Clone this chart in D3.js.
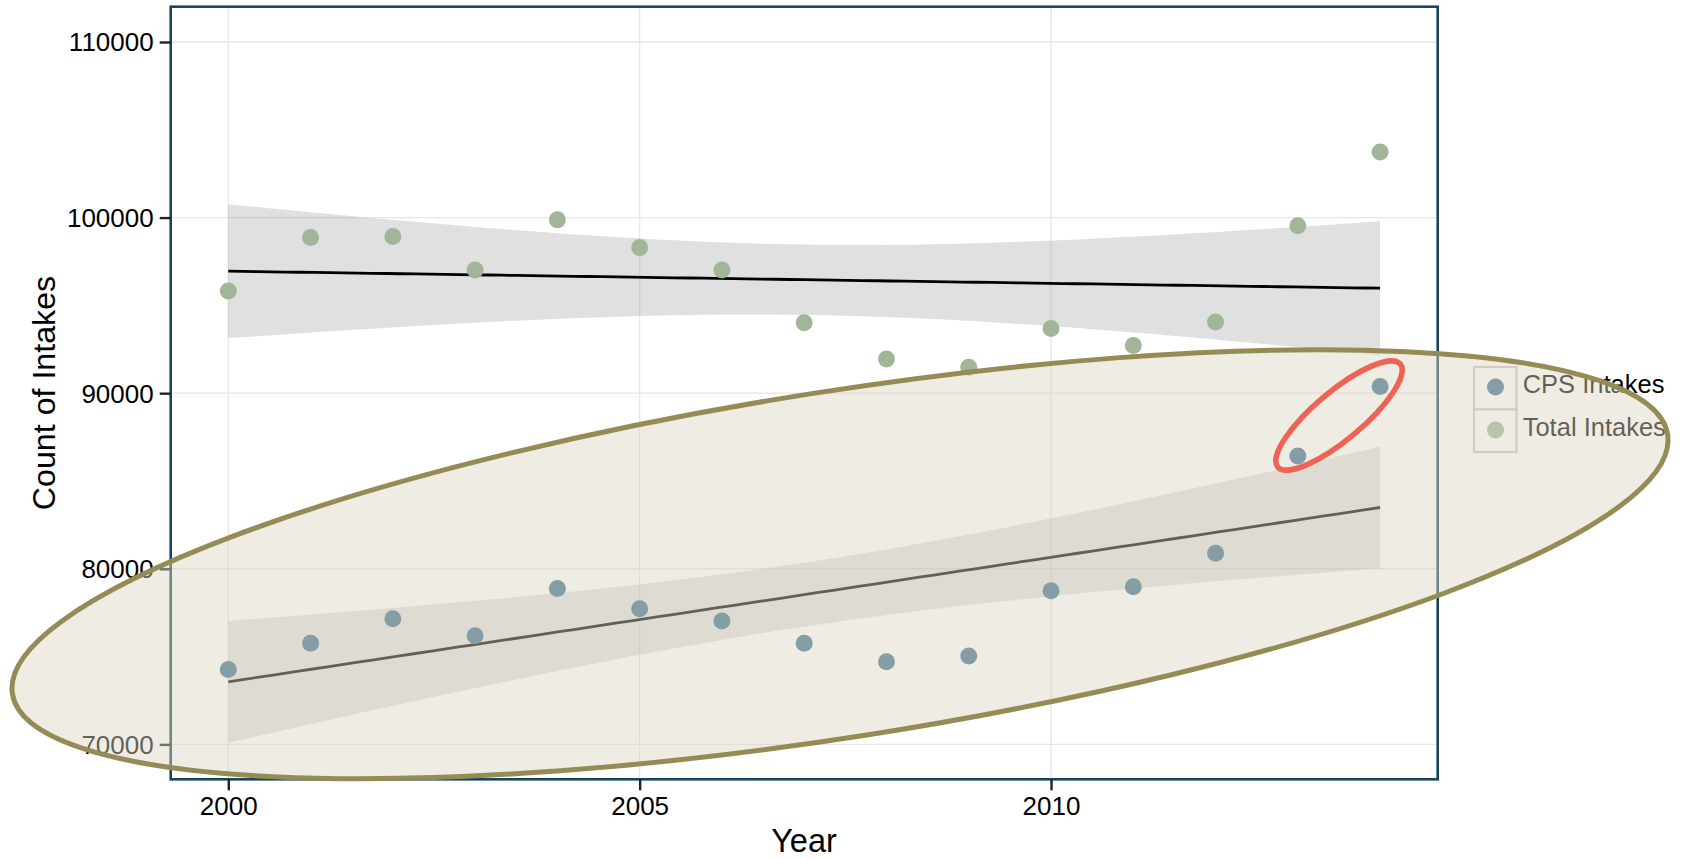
<!DOCTYPE html>
<html><head><meta charset="utf-8">
<script src="https://cdn.jsdelivr.net/npm/d3@7"></script>
<style>
html,body{margin:0;padding:0;background:#fff;}
svg text{font-family:"Liberation Sans",Arial,sans-serif;}
</style></head>
<body>
<svg id="chart" width="1685" height="859"></svg>
<script>
// ---- data ----
const years = [2000,2001,2002,2003,2004,2005,2006,2007,2008,2009,2010,2011,2012,2013,2014];
const totalIntakes = [95820,98860,98920,97020,99870,98290,97020,94010,91940,91480,93680,92710,94060,99530,103730];
const cpsIntakes = [74260,75760,77150,76180,78880,77720,77030,75760,74700,75030,78750,78970,80890,86420,90380];
const xTicks = [2000,2005,2010];
const yTicks = [70000,80000,90000,100000,110000];
const seriesNames = ["CPS Intakes","Total Intakes"];

const svg = d3.select("#chart");
const L=170.7, R=1437.7, T=6.7, B=779.3;
const x = d3.scaleLinear().domain([1999.3,2014.7]).range([L,R]);
const y = d3.scaleLinear().domain([68010,112010]).range([B,T]);

const colCPS="#3F6F8B", colTot="#A1B698";

// grid
const g = svg.append("g");
g.selectAll("line.gy").data(yTicks).join("line")
  .attr("x1",L).attr("x2",R).attr("y1",d=>y(d)).attr("y2",d=>y(d))
  .attr("stroke","#E6E6E6").attr("stroke-width",1.3);
g.selectAll("line.gx").data(xTicks).join("line")
  .attr("y1",T).attr("y2",B).attr("x1",d=>x(d)).attr("x2",d=>x(d))
  .attr("stroke","#E6E6E6").attr("stroke-width",1.3);

// linear fit with 95% CI
function fit(xs, ys){
  const n=xs.length, mx=d3.mean(xs), my=d3.mean(ys);
  let sxx=0,sxy=0; xs.forEach((v,i)=>{sxx+=(v-mx)**2; sxy+=(v-mx)*(ys[i]-my);});
  const b=sxy/sxx, a=my-b*mx;
  let sse=0; xs.forEach((v,i)=>{sse+=(ys[i]-a-b*v)**2;});
  const s=Math.sqrt(sse/(n-2)), t=2.1604;
  const pts=d3.range(0,81).map(k=>{
    const xv=xs[0]+(xs[n-1]-xs[0])*k/80;
    const yh=a+b*xv, se=s*Math.sqrt(1/n+(xv-mx)**2/sxx);
    return {x:xv,y:yh,lo:yh-t*se,hi:yh+t*se};
  });
  return pts;
}
const fits=[fit(years,totalIntakes),fit(years,cpsIntakes)];
const area=d3.area().x(d=>x(d.x)).y0(d=>y(d.lo)).y1(d=>y(d.hi));
const line=d3.line().x(d=>x(d.x)).y(d=>y(d.y));
fits.forEach(f=>{
  svg.append("path").attr("d",area(f)).attr("fill","#999999").attr("fill-opacity",0.3);
});
fits.forEach(f=>{
  svg.append("path").attr("d",line(f)).attr("fill","none").attr("stroke","#000").attr("stroke-width",2.8);
});

// points
svg.append("g").selectAll("circle").data(years).join("circle")
  .attr("cx",d=>x(d)).attr("cy",(d,i)=>y(totalIntakes[i])).attr("r",8.5).attr("fill",colTot);
svg.append("g").selectAll("circle").data(years).join("circle")
  .attr("cx",d=>x(d)).attr("cy",(d,i)=>y(cpsIntakes[i])).attr("r",8.5).attr("fill",colCPS);

// frame
svg.append("rect").attr("x",L).attr("y",T).attr("width",R-L).attr("height",B-T)
  .attr("fill","none").attr("stroke","#16475C").attr("stroke-width",2.6);

// axes
const yAxis = svg.append("g").attr("transform",`translate(${L},0)`)
  .call(d3.axisLeft(y).tickValues(yTicks).tickSize(11).tickPadding(6).tickFormat(d3.format("d")));
const xAxis = svg.append("g").attr("transform",`translate(0,${B})`)
  .call(d3.axisBottom(x).tickValues(xTicks).tickSize(11).tickPadding(6).tickFormat(d3.format("d")));
[yAxis,xAxis].forEach(a=>{
  a.select(".domain").remove();
  a.selectAll(".tick line").attr("stroke","#222").attr("stroke-width",2.4);
  a.selectAll(".tick text").attr("fill","#000").style("font-size","26px");
});
yAxis.selectAll(".tick text").attr("dy","0.34em");
xAxis.selectAll(".tick text").attr("dy","0.72em");

svg.append("text").attr("x",804).attr("y",852).attr("text-anchor","middle")
  .style("font-size","32.5px").text("Year");
svg.append("text").attr("transform","translate(55,393) rotate(-90)").attr("text-anchor","middle")
  .style("font-size","32.2px").text("Count of Intakes");

// legend
const leg = svg.append("g").attr("transform","translate(1474,367)");
const legCols=[colCPS,colTot];
leg.selectAll("rect").data(seriesNames).join("rect")
  .attr("x",0).attr("y",(d,i)=>i*42.5).attr("width",42.5).attr("height",42.5)
  .attr("fill","#fff").attr("stroke","#C8C8C8").attr("stroke-width",2.2);
leg.selectAll("circle").data(seriesNames).join("circle")
  .attr("cx",21.5).attr("cy",(d,i)=>20+i*43).attr("r",8.5).attr("fill",(d,i)=>legCols[i]);
leg.selectAll("text").data(seriesNames).join("text")
  .attr("x",48.7).attr("y",(d,i)=>26+i*42.5).style("font-size","25.5px").attr("fill","#000").text(d=>d);

// annotation ellipses
svg.append("ellipse").attr("cx",840).attr("cy",564.2).attr("rx",837.7).attr("ry",172.9)
  .attr("transform","rotate(-8.91,840,564.2)")
  .attr("fill","rgba(220,213,196,0.45)").attr("stroke","#958B55").attr("stroke-width",5);
svg.append("ellipse").attr("cx",1339).attr("cy",415.5).attr("rx",80).attr("ry",24)
  .attr("transform","rotate(-40,1339,415.5)")
  .attr("fill","none").attr("stroke","#EF6356").attr("stroke-width",5.5);
</script>
</body></html>
